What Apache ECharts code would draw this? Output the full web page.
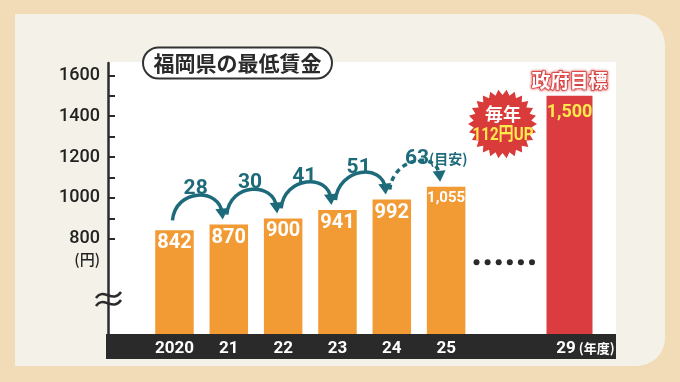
<!DOCTYPE html>
<html><head><meta charset="utf-8">
<script src="https://cdn.jsdelivr.net/npm/echarts@6/dist/echarts.min.js"></script>
<style>html,body{margin:0;padding:0;background:#f2dcb8}#c{width:680px;height:382px}</style>
</head><body><div id="c"></div>
<script>
// ---- data ----
const title = '福岡県の最低賃金';
const years = ['2020', '21', '22', '23', '24', '25'];
const wages = [842, 870, 900, 941, 992, 1055];
const targetYear = ['29'];
const targetWage = [1500];
const targetLabel = '政府目標';
const yearUnit = '(年度)';
const yenUnit = '(円)';
const yTickLabels = [800, 1000, 1200, 1400, 1600];
const yMinorTicks = [800, 900, 1000, 1100, 1200, 1300, 1400, 1500, 1600];
const estimateNote = '(目安)';
const badgeLines = ['毎年', '112円UP'];

// ---- styling ----
const TEAL = '#1d6b7a';
const NUM = 'Roboto, "Noto Sans CJK JP", sans-serif';
const JP = '"Noto Sans CJK JP", sans-serif';
const fmt = v => Number(v).toLocaleString('en-US');

const arrowData = wages.slice(0, -1).map((v, i) => [i, v, wages[i + 1], wages[i + 1] - v, i === wages.length - 2 ? 1 : 0]);

function renderArrow(params, api) {
  const i = api.value(0), v0 = api.value(1), v1 = api.value(2), d = api.value(3), est = api.value(4);
  const p0 = api.coord([i, v0]), p1 = api.coord([i + 1, v1]);
  const S = [p0[0] - 2, p0[1] - 10], E = [p1[0] - 6, p1[1] - 5];
  const c1 = [S[0] + 3, S[1] - 32], c2 = [E[0] - 3, E[1] - 32];
  let dx = E[0] - c2[0], dy = E[1] - c2[1];
  const L = Math.hypot(dx, dy); dx /= L; dy /= L;
  const nx = -dy, ny = dx, AL = 11, AW = 6.5;
  const base = [E[0] - dx * AL, E[1] - dy * AL];
  const Ec = [E[0] - dx * 6, E[1] - dy * 6];
  const mid = (p0[0] + p1[0]) / 2 - 6;
  const textEl = est ? {
    type: 'text',
    style: {
      text: `{a|${d}}{b|${estimateNote}}`, x: mid - 8, y: S[1] - 31,
      align: 'left', verticalAlign: 'middle',
      rich: {
        a: { fill: TEAL, color: TEAL, fontSize: 21, fontWeight: 'bold', fontFamily: NUM },
        b: { fill: TEAL, color: TEAL, fontSize: 14, fontWeight: 'bold', fontFamily: JP }
      }
    }
  } : {
    type: 'text',
    style: {
      text: String(d), x: mid, y: S[1] - 32, align: 'center', verticalAlign: 'middle',
      fill: TEAL, fontSize: 21, fontWeight: 'bold', fontFamily: NUM
    }
  };
  return {
    type: 'group',
    children: [
      {
        type: 'bezierCurve',
        shape: { x1: S[0], y1: S[1], cpx1: c1[0], cpy1: c1[1], cpx2: c2[0], cpy2: c2[1], x2: Ec[0], y2: Ec[1] },
        style: { stroke: TEAL, lineWidth: 3.5, fill: null, lineDash: est ? [5, 4] : null }
      },
      {
        type: 'polygon',
        shape: { points: [E, [base[0] + nx * AW, base[1] + ny * AW], [base[0] - nx * AW, base[1] - ny * AW]] },
        style: { fill: TEAL }
      },
      textEl
    ]
  };
}

const star = [];
(function () {
  const N = 26;
  for (let k = 0; k < 2 * N; k++) {
    const r = k % 2 ? 29 : 34.5;
    const a = Math.PI * k / N;
    star.push([502.5 + r * Math.cos(a), 124 + r * Math.sin(a)]);
  }
})();

const dots = [];
for (let k = 0; k < 6; k++) dots.push({ type: 'circle', shape: { cx: 476.5 + k * 11.1, cy: 262.3, r: 3 }, style: { fill: '#2a2a2a' }, z: 10, silent: true });

const chart = echarts.init(document.getElementById('c'), null, { renderer: 'canvas' });
chart.setOption({
  backgroundColor: '#f2dcb8',
  animation: false,
  grid: [
    { left: 147.3, right: 206.7, top: 63, bottom: 48 },
    { left: 542.3, right: 83.3, top: 63, bottom: 48 }
  ],
  xAxis: [
    {
      type: 'category', gridIndex: 0, data: years, z: 60,
      axisLine: { show: false }, axisTick: { show: false },
      axisLabel: { color: '#fff', fontSize: 17, fontWeight: 'bold', fontFamily: NUM, margin: 6 }
    },
    {
      type: 'category', gridIndex: 1, data: targetYear, z: 60,
      axisLine: { show: false }, axisTick: { show: false },
      axisLabel: {
        margin: 6,
        formatter: v => `{sp|}{n|${v}}{u|${yearUnit}}`,
        rich: {
          sp: { width: 32 },
          n: { color: '#fff', fontSize: 17, fontWeight: 'bold', fontFamily: NUM },
          u: { color: '#fff', fontSize: 13, fontWeight: 'bold', fontFamily: JP, padding: [0, 0, 1, 3] }
        }
      }
    }
  ],
  yAxis: [
    {
      type: 'value', gridIndex: 0, min: 335, max: 1660, offset: 39.3,
      splitLine: { show: false },
      axisLine: { show: true, lineStyle: { color: '#2b2b2b', width: 2.5 } },
      axisTick: { show: true, inside: true, length: 7, customValues: yMinorTicks, lineStyle: { color: '#2b2b2b', width: 2 } },
      axisLabel: {
        customValues: yTickLabels, margin: 8, align: 'right',
        formatter: v => v === 800 ? `{e| }\n{v|${v}}\n{u|${yenUnit}}` : `{v|${v}}`,
        rich: {
          e: { lineHeight: 20, fontSize: 10 },
          v: { color: '#222', fontSize: 18, fontWeight: 500, fontFamily: NUM, lineHeight: 20 },
          u: { color: '#222', fontSize: 15, fontWeight: 500, fontFamily: JP, lineHeight: 20 }
        }
      }
    },
    { type: 'value', gridIndex: 1, min: 335, max: 1660, show: false, splitLine: { show: false } }
  ],
  series: [
    {
      type: 'bar', xAxisIndex: 0, yAxisIndex: 0, z: 3, barWidth: 38.5,
      data: wages.map(v => v >= 1000 ? { value: v, label: { fontSize: 15, distance: 4 } } : v),
      itemStyle: { color: '#f29a33' },
      label: {
        show: true, position: 'insideTop', distance: 3, color: '#fff', fontSize: 20,
        fontWeight: 'bold', fontFamily: NUM, formatter: p => fmt(p.value)
      }
    },
    {
      type: 'custom', xAxisIndex: 0, yAxisIndex: 0, z: 4, data: arrowData, renderItem: renderArrow, silent: true
    },
    {
      type: 'bar', xAxisIndex: 1, yAxisIndex: 1, z: 3, barWidth: 46,
      data: targetWage,
      itemStyle: { color: '#da3c40' },
      label: {
        show: true, position: 'insideTop', distance: 0, offset: [0, -30],
        formatter: p => `{t|${targetLabel}}\n{v|${fmt(p.value)}}`,
        rich: {
          t: { color: '#fff', fontSize: 19, fontWeight: 'bold', fontFamily: JP, textBorderColor: '#d63c3c', textBorderWidth: 1.5, textShadowColor: '#d63c3c', textShadowBlur: 3, lineHeight: 30 },
          v: { color: '#ffe94d', fontSize: 18, fontWeight: 'bold', fontFamily: NUM, lineHeight: 34 }
        }
      }
    }
  ],
  graphic: {
    elements: [
      { type: 'rect', shape: { x: 15, y: 14, width: 650, height: 352, r: [0, 32, 28, 0] }, style: { fill: '#f3f1e8' }, z: -20, silent: true },
      { type: 'rect', shape: { x: 107, y: 62, width: 509, height: 272 }, style: { fill: '#ffffff' }, z: -19, silent: true },
      { type: 'rect', shape: { x: 106, y: 334, width: 510, height: 25 }, style: { fill: '#2a2a2a' }, z: 50, silent: true },
      { type: 'rect', shape: { x: 143, y: 47.5, width: 189, height: 31, r: 15.5 }, style: { fill: '#ffffff', stroke: '#333', lineWidth: 2 }, z: 10, silent: true },
      { type: 'text', x: 237.5, y: 63, style: { text: title, align: 'center', verticalAlign: 'middle', fill: '#2a2a2a', fontSize: 21, fontWeight: 'bold', fontFamily: JP }, z: 11, silent: true },
      { type: 'bezierCurve', shape: { x1: 96, y1: 298, cpx1: 103, cpy1: 287, cpx2: 113, cpy2: 304, x2: 121, y2: 292 }, style: { stroke: '#2b2b2b', lineWidth: 2.5, fill: null }, z: 10, silent: true },
      { type: 'bezierCurve', shape: { x1: 96, y1: 306, cpx1: 103, cpy1: 295, cpx2: 113, cpy2: 312, x2: 121, y2: 300 }, style: { stroke: '#2b2b2b', lineWidth: 2.5, fill: null }, z: 10, silent: true },
      ...dots,
      { type: 'polygon', shape: { points: star }, style: { fill: '#d93b3b' }, z: 10, silent: true },
      { type: 'text', x: 503, y: 114, style: { text: badgeLines[0], align: 'center', verticalAlign: 'middle', fill: '#fff', fontSize: 18, fontWeight: 'bold', fontFamily: JP }, z: 11, silent: true },
      { type: 'text', x: 503, y: 135, scaleX: 0.84, originX: 0, originY: 0, style: { text: badgeLines[1], align: 'center', verticalAlign: 'middle', fill: '#ffe94d', fontSize: 18, fontWeight: 'bold', fontFamily: NUM }, z: 11, silent: true }
    ]
  }
});
</script>
</body></html>
